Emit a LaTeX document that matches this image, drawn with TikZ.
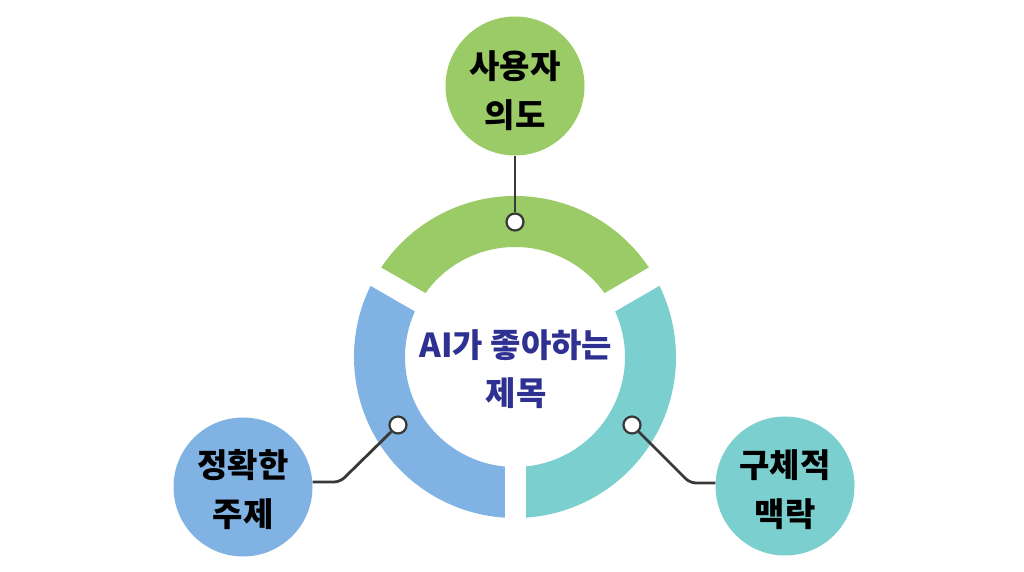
\documentclass[tikz,border=0pt]{standalone}
\usepackage{fontspec}
\newfontfamily\kr{Noto Sans CJK KR}
\usetikzlibrary{positioning}
\definecolor{ringgreen}{HTML}{9ACB66}
\definecolor{ringblue}{HTML}{80B3E4}
\definecolor{ringteal}{HTML}{7BCFCE}
\definecolor{titleblue}{HTML}{2E3192}
\definecolor{wire}{HTML}{383838}
\tikzstyle{topic} = [circle, minimum size=139pt, inner sep=0pt]
\tikzstyle{topictext} = [align=center, text=black, inner sep=0pt, font=\kr\bfseries\fontsize{33}{49}\selectfont]
\tikzstyle{pin} = [circle, minimum size=17pt, inner sep=0pt, draw=wire, line width=2.2pt, fill=white]
\tikzstyle{wireline} = [draw=wire, line width=2.8pt, rounded corners=6pt]

\begin{document}
\begin{tikzpicture}[x=1pt, y=1pt]

\useasboundingbox [fill=white] (0,0) rectangle (1024,572);

% ring, three parts
\begin{scope}[shift={(515,215)}]
\fill [ringgreen] (30:161) arc [start angle=30, end angle=150, radius=161] -- (150:110) arc [start angle=150, end angle=30, radius=110] -- cycle;
\fill [ringblue] (150:161) arc [start angle=150, end angle=270, radius=161] -- (270:110) arc [start angle=270, end angle=150, radius=110] -- cycle;
\fill [ringteal] (270:161) arc [start angle=270, end angle=390, radius=161] -- (30:110) arc [start angle=390, end angle=270, radius=110] -- cycle;
\foreach \a in {30,150,270}
  \draw [white, line width=21pt] (\a:100) -- (\a:170);
\end{scope}

\node (title) [align=center, text=titleblue, font=\kr\bfseries\fontsize{33}{48}\selectfont] at (516,203) {AI가 좋아하는\\제목};

% outer circles
\node (intent) [topic, fill=ringgreen] at (515,486) {};
\node (subject) [topic, fill=ringblue] at (243,85) {};
\node (context) [topic, fill=ringteal] at (785,86) {};
\node (intentText) [topictext] at ([yshift=-5pt]intent.center) {사용자\\의도};
\node (subjectText) [topictext] at ([yshift=-3pt]subject.center) {정확한\\주제};
\node (contextText) [topictext] at ([yshift=-4pt]context.center) {구체적\\맥락};

\node (pinTop) [pin] at (515,350) {};
\node (pinLeft) [pin] at (398,147) {};
\node (pinRight) [pin] at (632,147) {};

\coordinate (bendLeft) at (340,90);
\coordinate (bendRight) at (690,89);

\draw [wireline] (intent.south) -- (pinTop.north);
\draw [wireline] (pinLeft.south west) -- (bendLeft) -- (subject.east |- bendLeft);
\draw [wireline] (pinRight.south east) -- (bendRight) -- (context.west |- bendRight);

\end{tikzpicture}
\end{document}
